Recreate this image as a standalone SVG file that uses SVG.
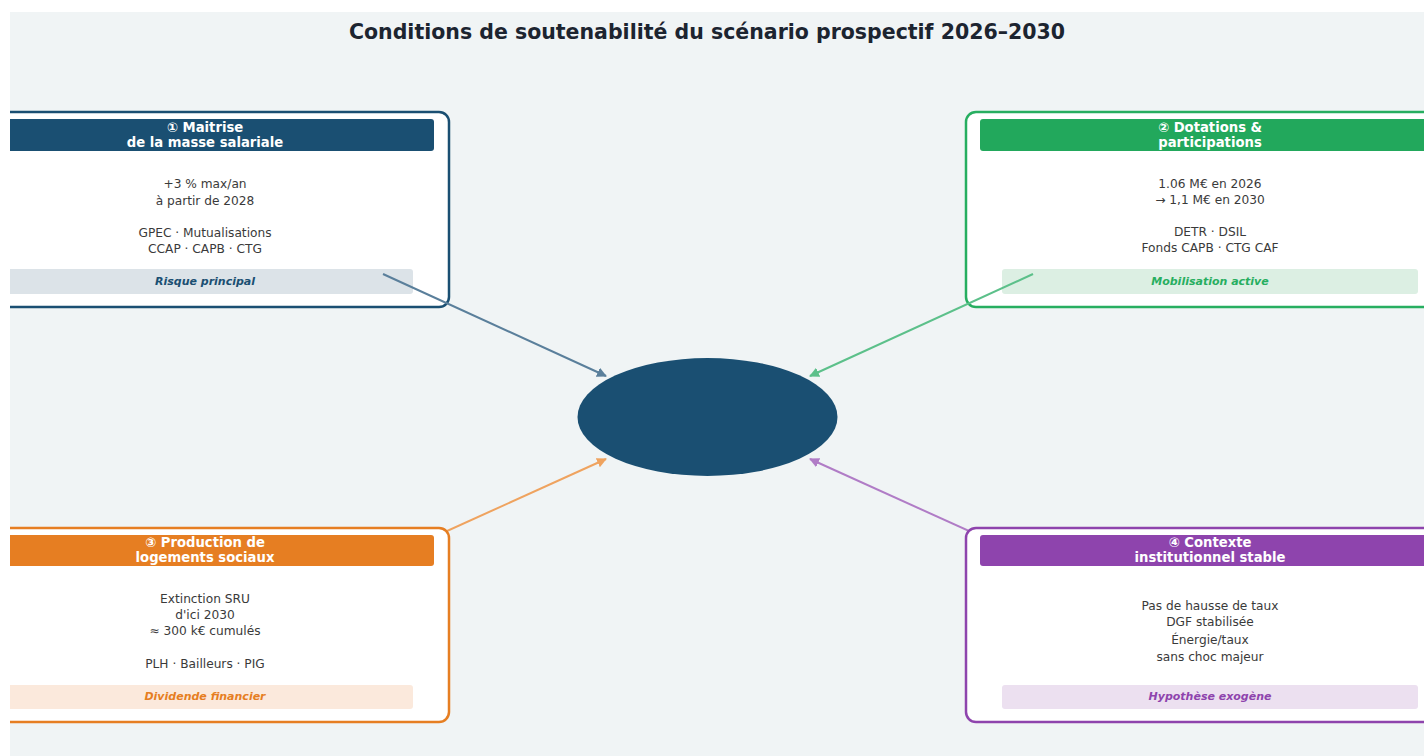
<svg xmlns="http://www.w3.org/2000/svg" width="1424" height="756" viewBox="0 0 1424 756">
  <style>
    .title { font-family: "DejaVu Sans", sans-serif; font-weight: bold; font-size: 20.5px; fill: #1c2430; text-anchor: middle; }
    .head { font-family: "DejaVu Sans", sans-serif; font-weight: bold; font-size: 13.2px; fill: #ffffff; text-anchor: middle; }
    .body { font-family: "DejaVu Sans", sans-serif; font-size: 12.2px; fill: #3a3a3a; text-anchor: middle; }
    .tag { font-family: "DejaVu Sans", sans-serif; font-weight: bold; font-style: italic; font-size: 11px; text-anchor: middle; }
    .card { fill: #ffffff; stroke-width: 2.5; }
    .link { stroke-width: 2; fill: none; }
  </style>
  <defs>
    <clipPath id="plot-area">
      <rect x="10" y="12" width="1414" height="744"/>
    </clipPath>
    <marker id="ah-blue" viewBox="0 0 10 10" refX="9" refY="5" markerWidth="10" markerHeight="10" orient="auto" markerUnits="userSpaceOnUse">
      <path d="M0,0 L10,5 L0,10 z" fill="#5a7f9b"/>
    </marker>
    <marker id="ah-green" viewBox="0 0 10 10" refX="9" refY="5" markerWidth="10" markerHeight="10" orient="auto" markerUnits="userSpaceOnUse">
      <path d="M0,0 L10,5 L0,10 z" fill="#5cc08a"/>
    </marker>
    <marker id="ah-orange" viewBox="0 0 10 10" refX="9" refY="5" markerWidth="10" markerHeight="10" orient="auto" markerUnits="userSpaceOnUse">
      <path d="M0,0 L10,5 L0,10 z" fill="#efa35f"/>
    </marker>
    <marker id="ah-purple" viewBox="0 0 10 10" refX="9" refY="5" markerWidth="10" markerHeight="10" orient="auto" markerUnits="userSpaceOnUse">
      <path d="M0,0 L10,5 L0,10 z" fill="#b07cc6"/>
    </marker>
  </defs>

  <!-- canvas -->
  <rect x="0" y="0" width="1424" height="756" fill="#ffffff"/>

  <g clip-path="url(#plot-area)">
    <rect x="10" y="12" width="1414" height="744" fill="#f0f4f5"/>

    <text class="title" x="707" y="39">Conditions de soutenabilité du scénario prospectif 2026–2030</text>

    <!-- lower links run beneath the lower cards -->
    <g id="connectors">
      <line class="link" x1="383" y1="560" x2="606" y2="459" stroke="#efa35f" marker-end="url(#ah-orange)"/>
      <line class="link" x1="1033" y1="560" x2="810" y2="459" stroke="#b07cc6" marker-end="url(#ah-purple)"/>
    </g>

    <!-- central hub -->
    <g id="hub">
      <ellipse cx="707.5" cy="417" rx="130" ry="59" fill="#1a4f72"/>
    </g>

    <!-- card 1 -->
    <g id="card-masse-salariale">
      <rect class="card" x="-40" y="112" width="489" height="195" rx="10" stroke="#1a4f72"/>
      <rect x="-24" y="119" width="458" height="32" rx="3" fill="#1a4f72"/>
      <text class="head" x="205" y="132">① Maitrise</text>
      <text class="head" x="205" y="147">de la masse salariale</text>
      <text class="body" x="205" y="188">+3 % max/an</text>
      <text class="body" x="205" y="205">à partir de 2028</text>
      <text class="body" x="205" y="237">GPEC · Mutualisations</text>
      <text class="body" x="205" y="253">CCAP · CAPB · CTG</text>
      <rect x="-3" y="269" width="416" height="25" rx="3" fill="#dce3e8"/>
      <text class="tag" x="205" y="285" fill="#1a4f72">Risque principal</text>
    </g>

    <!-- card 2 -->
    <g id="card-dotations">
      <rect class="card" x="966" y="112" width="489" height="195" rx="10" stroke="#27ae60"/>
      <rect x="980" y="119" width="458" height="32" rx="3" fill="#22a85c"/>
      <text class="head" x="1210" y="132">② Dotations &amp;</text>
      <text class="head" x="1210" y="147">participations</text>
      <text class="body" x="1210" y="188">1.06 M€ en 2026</text>
      <text class="body" x="1210" y="204">→ 1,1 M€ en 2030</text>
      <text class="body" x="1210" y="236">DETR · DSIL</text>
      <text class="body" x="1210" y="252">Fonds CAPB · CTG CAF</text>
      <rect x="1002" y="269" width="416" height="25" rx="3" fill="#dcefe3"/>
      <text class="tag" x="1210" y="285" fill="#27ae60">Mobilisation active</text>
    </g>

    <!-- upper links drawn over the upper cards -->
    <g id="connectors-upper">
      <line class="link" x1="383" y1="274" x2="606" y2="376" stroke="#5a7f9b" marker-end="url(#ah-blue)"/>
      <line class="link" x1="1033" y1="274" x2="810" y2="376" stroke="#5cc08a" marker-end="url(#ah-green)"/>
    </g>

    <!-- card 3 -->
    <g id="card-logements">
      <rect class="card" x="-40" y="528" width="489" height="194" rx="10" stroke="#e67e22"/>
      <rect x="-24" y="535" width="458" height="31" rx="3" fill="#e67e22"/>
      <text class="head" x="205" y="547">③ Production de</text>
      <text class="head" x="205" y="562">logements sociaux</text>
      <text class="body" x="205" y="603">Extinction SRU</text>
      <text class="body" x="205" y="619">d'ici 2030</text>
      <text class="body" x="205" y="635">≈ 300 k€ cumulés</text>
      <text class="body" x="205" y="668">PLH · Bailleurs · PIG</text>
      <rect x="-3" y="685" width="416" height="24" rx="3" fill="#fbe9dc"/>
      <text class="tag" x="205" y="700" fill="#e67e22">Dividende financier</text>
    </g>

    <!-- card 4 -->
    <g id="card-contexte">
      <rect class="card" x="966" y="528" width="489" height="194" rx="10" stroke="#8e44ad"/>
      <rect x="980" y="535" width="458" height="31" rx="3" fill="#8e44ad"/>
      <text class="head" x="1210" y="547">④ Contexte</text>
      <text class="head" x="1210" y="562">institutionnel stable</text>
      <text class="body" x="1210" y="610">Pas de hausse de taux</text>
      <text class="body" x="1210" y="626">DGF stabilisée</text>
      <text class="body" x="1210" y="644">Énergie/taux</text>
      <text class="body" x="1210" y="661">sans choc majeur</text>
      <rect x="1002" y="685" width="416" height="24" rx="3" fill="#ece0f0"/>
      <text class="tag" x="1210" y="700" fill="#8e44ad">Hypothèse exogène</text>
    </g>
  </g>
</svg>
